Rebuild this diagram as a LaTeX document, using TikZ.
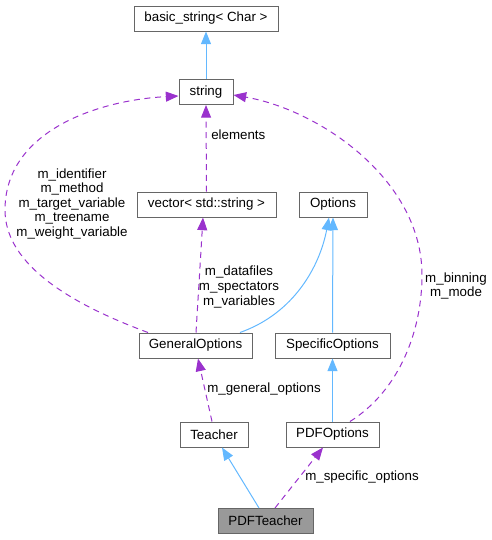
\documentclass[tikz,border=0pt]{standalone}
\usepackage{fontspec}
\setmainfont{Liberation Sans}
\usetikzlibrary{arrows.meta,calc}
\definecolor{nodeborder}{HTML}{666666}
\definecolor{inhblue}{HTML}{63B8FF}
\definecolor{usepurple}{HTML}{9A32CD}
\definecolor{curfill}{HTML}{999999}
\tikzset{
  cls/.style={draw=nodeborder, line width=0.75pt, fill=white, minimum height=18.75pt, inner sep=0pt, font=\fontsize{10}{12}\selectfont},
  inh/.style={draw=inhblue, line width=0.75pt, -{Triangle[length=9.5pt,width=7.5pt]}, fill=none},
  usage/.style={draw=usepurple, line width=0.75pt, dash pattern=on 4.5pt off 3.5pt, -{Triangle[length=9.5pt,width=7.5pt,fill=usepurple]}},
  lbl/.style={align=center, inner sep=0pt, font=\fontsize{10}{10.9}\selectfont}
}
\begin{document}
\begin{tikzpicture}[x=0.75pt,y=-0.75pt]
\useasboundingbox (0,0) rectangle (492,540);
% nodes
\node[cls, minimum width=108pt] (basic) at (206,18.5) {basic\_string< Char >};
\node[cls, minimum width=40.5pt] (str) at (206,92) {string};
\node[cls, minimum width=104.25pt] (vec) at (206.5,204.5) {vector< std::string >};
\node[cls, minimum width=51pt] (opt) at (333,204.5) {Options};
\node[cls, minimum width=84.75pt] (gen) at (195.5,345.5) {GeneralOptions};
\node[cls, minimum width=86.25pt] (spec) at (332.5,345.5) {SpecificOptions};
\node[cls, minimum width=51pt] (tea) at (214,434.5) {Teacher};
\node[cls, minimum width=69.75pt] (pdfo) at (332.5,434.5) {PDFOptions};
\node[cls, minimum width=71.25pt, fill=curfill] (pdft) at (265.5,521) {PDFTeacher};
% labels
\node[lbl, anchor=west] (lelem) at (211,135) {elements};
\node[lbl] (lgenstr) at (72,204) {m\_identifier\\m\_method\\m\_target\_variable\\m\_treename\\m\_weight\_variable};
\node[lbl] (lgenvec) at (239,287) {m\_datafiles\\m\_spectators\\m\_variables};
\node[lbl] (lpdfstr) at (456,286) {m\_binning\\m\_mode};
\node[lbl] (lgen) at (264,389) {m\_general\_options};
\node[lbl] (lspec) at (362,477) {m\_specific\_options};
% edges
\draw[inh] (str.north) -- (basic.south);
\draw[usage] (vec.north) -- (str.south);
\draw[usage] ($(gen.north)+(-47.5,0)$) .. controls (60,300) and (5,260) .. (5,210)
   .. controls (5,130) and (100,100) .. ($(str.west)+(0,4)$);
\draw[usage] ($(gen.north)+(0.5,0)$) -- ($(vec.south)+(-3.5,0)$);
\draw[inh] ($(gen.north)+(44.5,0)$) .. controls (295,313) and (320,265) .. ($(opt.south)+(-4,0)$);
\draw[inh] (spec.north) -- (opt.south);
\draw[inh] (pdfo.north) -- (spec.south);
\draw[usage] ($(pdfo.north)+(17.5,0)$) .. controls (400,390) and (422,330) .. (422,275)
   .. controls (422,180) and (320,110) .. ($(str.east)+(0,3)$);
\draw[usage] ($(tea.north)+(-2,0)$) -- ($(gen.south)+(2.5,0)$);
\draw[inh] ($(pdft.north)+(-6.5,0)$) -- ($(tea.south)+(8,0)$);
\draw[usage] ($(pdft.north)+(9.5,0)$) -- ($(pdfo.south)+(-9.5,0)$);
\end{tikzpicture}
\end{document}
